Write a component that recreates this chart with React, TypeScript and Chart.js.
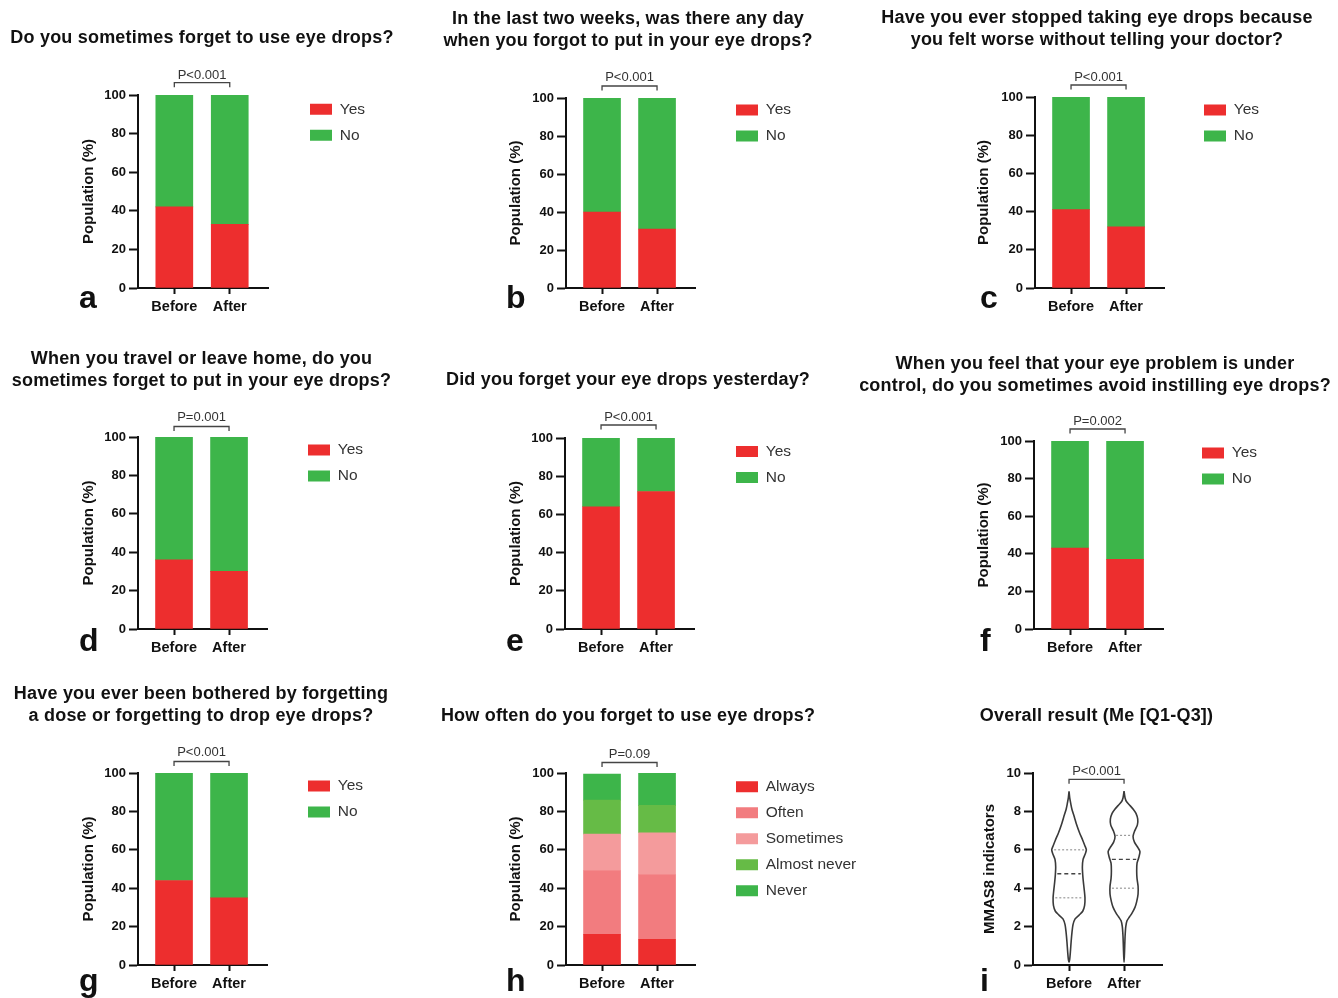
import React, { useEffect, useRef } from 'react';
import { Chart, registerables } from 'chart.js';

Chart.register(...registerables);

const FONT = '"Liberation Sans", Arial, Helvetica, sans-serif';
Chart.defaults.font.family = FONT;

// ---------- categories / labels ----------
const groups = ['Before', 'After'];
const yesNoLabels = ['Yes', 'No'];
const freqLabels = ['Always', 'Often', 'Sometimes', 'Almost never', 'Never'];
const percentTicks = [0, 20, 40, 60, 80, 100];
const mmasTicks = [0, 2, 4, 6, 8, 10];
const pValues = ['P<0.001', 'P<0.001', 'P<0.001', 'P=0.001', 'P<0.001', 'P=0.002', 'P<0.001', 'P=0.09', 'P<0.001'];

// ---------- values (percent of population) ----------
const aYes = [42, 33];
const aNo = [58, 67];
const bYes = [40, 31];
const bNo = [60, 69];
const cYes = [41, 32];
const cNo = [59, 68];
const dYes = [36, 30];
const dNo = [64, 70];
const eYes = [64, 72];
const eNo = [36, 28];
const fYes = [43, 37];
const fNo = [57, 63];
const gYes = [44, 35];
const gNo = [56, 65];

const hAlways = [16, 13.4];
const hOften = [33.2, 33.6];
const hSometimes = [19, 21.9];
const hAlmostNever = [17.7, 14.2];
const hNever = [13.6, 16.9];

// ---------- violin (MMAS8) : levels and relative density ----------
const violinLevelsBefore = [9.05, 8.7, 8.4, 8.1, 7.7, 7.3, 6.9, 6.5, 6.2, 6.0, 5.8, 5.5, 5.1, 4.7, 4.3, 3.9, 3.5, 3.1, 2.8, 2.6, 2.4, 2.1, 1.7, 1.2, 0.7, 0.3, 0.15];
const violinDensityBefore = [0, 0.04, 0.1, 0.17, 0.31, 0.44, 0.6, 0.79, 0.92, 1, 0.94, 0.81, 0.77, 0.79, 0.83, 0.88, 0.92, 0.9, 0.79, 0.58, 0.35, 0.23, 0.17, 0.12, 0.08, 0.04, 0];
const violinLevelsAfter = [9.05, 8.7, 8.5, 8.3, 8.1, 7.9, 7.6, 7.3, 7.0, 6.7, 6.4, 6.1, 5.9, 5.6, 5.3, 4.9, 4.5, 4.1, 3.7, 3.3, 3.0, 2.7, 2.5, 2.3, 2.0, 1.5, 1.0, 0.5, 0.15];
const violinDensityAfter = [0, 0.06, 0.15, 0.35, 0.54, 0.69, 0.79, 0.77, 0.62, 0.52, 0.6, 0.81, 0.92, 0.85, 0.75, 0.73, 0.75, 0.81, 0.81, 0.73, 0.63, 0.46, 0.31, 0.17, 0.1, 0.06, 0.04, 0.02, 0];
const quartilesBefore = [3.5, 4.75, 6.0];
const quartilesAfter = [4.0, 5.5, 6.75];

// ---------- styles ----------
const RED = '#ED2E2E';
const GREEN = '#3DB54A';
const freqColors = ['#ED2E2E', '#F27C7F', '#F49B9C', '#66BB46', '#3DB54A'];
const VIOLIN_HALF = 0.315;

const cols = [[0, 430], [430, 430], [860, 478]];
const rows = [[0, 335], [335, 335], [670, 328]];

type Series = { label: string; values: number[]; color: string };
type Panel = {
  letter: string; col: number; row: number; title: string[]; titleX: number; titleY: number;
  area: number[]; yTitleX: number; letterPos: number[]; legend?: number[]; bracket: number[];
  p: string; kind: 'bar' | 'violin'; series?: Series[]; yTitle: string;
};

const yn = (yes: number[], no: number[]): Series[] => [
  { label: yesNoLabels[0], values: yes, color: RED },
  { label: yesNoLabels[1], values: no, color: GREEN },
];

const panels: Panel[] = [
  { letter: 'a', col: 0, row: 0, title: ['Do you sometimes forget to use eye drops?'], titleX: 202, titleY: 38,
    area: [138, 268, 95, 288], yTitleX: 89, letterPos: [79, 308], legend: [310, 109.3], bracket: [-12.3, -20], p: pValues[0], kind: 'bar', series: yn(aYes, aNo), yTitle: 'Population (%)' },
  { letter: 'b', col: 1, row: 0, title: ['In the last two weeks, was there any day', 'when you forgot to put in your eye drops?'], titleX: 628, titleY: 19,
    area: [566, 695, 98, 288], yTitleX: 516, letterPos: [506, 308], legend: [736, 110], bracket: [-12, -21], p: pValues[1], kind: 'bar', series: yn(bYes, bNo), yTitle: 'Population (%)' },
  { letter: 'c', col: 2, row: 0, title: ['Have you ever stopped taking eye drops because', 'you felt worse without telling your doctor?'], titleX: 1097, titleY: 18.5,
    area: [1035, 1164, 97, 288], yTitleX: 984, letterPos: [980, 308], legend: [1204, 110], bracket: [-12, -20], p: pValues[2], kind: 'bar', series: yn(cYes, cNo), yTitle: 'Population (%)' },
  { letter: 'd', col: 0, row: 1, title: ['When you travel or leave home, do you', 'sometimes forget to put in your eye drops?'], titleX: 201.5, titleY: 359.5,
    area: [138, 267, 437, 629], yTitleX: 89, letterPos: [79, 651], legend: [308, 450], bracket: [-10.5, -20], p: pValues[3], kind: 'bar', series: yn(dYes, dNo), yTitle: 'Population (%)' },
  { letter: 'e', col: 1, row: 1, title: ['Did you forget your eye drops yesterday?'], titleX: 628, titleY: 380,
    area: [565, 694, 438, 629], yTitleX: 516, letterPos: [506, 651], legend: [736, 451.5], bracket: [-13, -21], p: pValues[4], kind: 'bar', series: yn(eYes, eNo), yTitle: 'Population (%)' },
  { letter: 'f', col: 2, row: 1, title: ['When you feel that your eye problem is under', 'control, do you sometimes avoid instilling eye drops?'], titleX: 1095, titleY: 364.5,
    area: [1034, 1163, 441, 629], yTitleX: 984, letterPos: [980, 651], legend: [1202, 453], bracket: [-12, -19.5], p: pValues[5], kind: 'bar', series: yn(fYes, fNo), yTitle: 'Population (%)' },
  { letter: 'g', col: 0, row: 2, title: ['Have you ever been bothered by forgetting', 'a dose or forgetting to drop eye drops?'], titleX: 201, titleY: 694.5,
    area: [138, 267, 773, 965], yTitleX: 89, letterPos: [79, 991], legend: [308, 786], bracket: [-11.5, -20.5], p: pValues[6], kind: 'bar', series: yn(gYes, gNo), yTitle: 'Population (%)' },
  { letter: 'h', col: 1, row: 2, title: ['How often do you forget to use eye drops?'], titleX: 628, titleY: 716,
    area: [566, 695, 773, 965], yTitleX: 516, letterPos: [506, 991], legend: [736, 786.7], bracket: [-10.5, -19], p: pValues[7], kind: 'bar',
    series: [
      { label: freqLabels[0], values: hAlways, color: freqColors[0] },
      { label: freqLabels[1], values: hOften, color: freqColors[1] },
      { label: freqLabels[2], values: hSometimes, color: freqColors[2] },
      { label: freqLabels[3], values: hAlmostNever, color: freqColors[3] },
      { label: freqLabels[4], values: hNever, color: freqColors[4] },
    ], yTitle: 'Population (%)' },
  { letter: 'i', col: 2, row: 2, title: ['Overall result (Me [Q1-Q3])'], titleX: 1096.5, titleY: 716,
    area: [1033, 1162, 773, 965], yTitleX: 990, letterPos: [980, 991], bracket: [6.3, -1.3], p: pValues[8], kind: 'violin', yTitle: 'MMAS8 indicators' },
];

function widthAt(levels: number[], dens: number[], v: number) {
  for (let k = 0; k < levels.length - 1; k++) {
    const a = levels[k], b = levels[k + 1];
    if (v <= a && v >= b) {
      const t = (a - v) / (a - b);
      return dens[k] + (dens[k + 1] - dens[k]) * t;
    }
  }
  return 0;
}

function outline(levels: number[], dens: number[], c: number) {
  const right = levels.map((y, i) => ({ x: c + dens[i] * VIOLIN_HALF, y }));
  const left = levels.map((y, i) => ({ x: c - dens[i] * VIOLIN_HALF, y })).reverse();
  return right.concat(left.slice(1));
}

const grid = (len: number) => ({ display: true, drawOnChartArea: false, drawTicks: true, tickLength: len, tickWidth: 2, tickColor: '#111', offset: false });
const border = { display: true, color: '#111', width: 2 };

function makePlugin(p: Panel, ox: number, oy: number) {
  return {
    id: 'annot_' + p.letter,
    afterLayout(chart: any) {
      const l = chart.legend;
      if (!l || !p.legend) return;
      const pad = 10.5;
      const itemH = 15.5;
      const left = p.legend[0] - ox - pad;
      const top = p.legend[1] - oy - itemH / 2 - pad;
      l.left = left; l.top = top; l.width = 220; l.height = 200;
      l.right = left + 220; l.bottom = top + 200;
    },
    afterDraw(chart: any) {
      const ctx = chart.ctx as CanvasRenderingContext2D;
      const xs = chart.scales.x;
      const top = chart.chartArea.top;
      ctx.save();
      ctx.fillStyle = '#111';
      ctx.textAlign = 'center';
      ctx.textBaseline = 'middle';
      ctx.font = `bold 18px ${FONT}`;
      (ctx as any).letterSpacing = '0.2px';
      p.title.forEach((line, k) => ctx.fillText(line, p.titleX - ox, p.titleY - oy + k * 21.8));
      (ctx as any).letterSpacing = '0px';
      const x0 = xs.getPixelForValue(0);
      const x1 = xs.getPixelForValue(1);
      const by = top + p.bracket[0];
      ctx.strokeStyle = '#444';
      ctx.lineWidth = 1.3;
      ctx.beginPath();
      ctx.moveTo(x0, by + 4.5); ctx.lineTo(x0, by); ctx.lineTo(x1, by); ctx.lineTo(x1, by + 4.5);
      ctx.stroke();
      ctx.fillStyle = '#333';
      ctx.font = `13px ${FONT}`;
      ctx.fillText(p.p, (x0 + x1) / 2, top + p.bracket[1]);
      ctx.textAlign = 'left';
      ctx.textBaseline = 'alphabetic';
      ctx.fillStyle = '#111';
      ctx.font = `bold 32px ${FONT}`;
      ctx.fillText(p.letter, p.letterPos[0] - ox, p.letterPos[1] - oy);
      ctx.restore();
    },
  };
}

function buildConfig(p: Panel): any {
  const [cx, cw] = cols[p.col];
  const [ry, rh] = rows[p.row];
  const [L, R, T, B] = p.area;
  const yW = L - p.yTitleX + 9;
  const xH = 30;
  const padding = { left: L - cx - yW, right: cx + cw - R, top: T - ry, bottom: ry + rh - B - xH };
  const isBar = p.kind === 'bar';

  let datasets: any[] = [];
  if (isBar) {
    datasets = (p.series || []).map((s) => ({
      label: s.label,
      data: groups.map((_, i) => ({ x: i, y: s.values[i] })),
      backgroundColor: s.color,
      borderWidth: 0,
      barThickness: 37,
      stack: 'one',
    }));
  } else {
    const sets = [
      { levels: violinLevelsBefore, dens: violinDensityBefore, q: quartilesBefore },
      { levels: violinLevelsAfter, dens: violinDensityAfter, q: quartilesAfter },
    ];
    sets.forEach((s, gi) => {
      datasets.push({
        label: groups[gi],
        data: outline(s.levels, s.dens, gi),
        showLine: true, fill: false, borderColor: '#3a3a3a', borderWidth: 1.6,
        pointRadius: 0, pointHoverRadius: 0, tension: 0.25,
      });
      s.q.forEach((qv, qi) => {
        const hw = widthAt(s.levels, s.dens, qv) * VIOLIN_HALF * 0.86;
        datasets.push({
          label: groups[gi] + ' q' + qi,
          data: [{ x: gi - hw, y: qv }, { x: gi + hw, y: qv }],
          showLine: true, fill: false,
          borderColor: qi === 1 ? '#444' : '#9a9a9a',
          borderWidth: qi === 1 ? 1.4 : 1.2,
          borderDash: qi === 1 ? [4, 3] : [2, 2],
          pointRadius: 0, pointHoverRadius: 0,
        });
      });
    });
  }

  const yTicks = isBar ? percentTicks : mmasTicks;

  return {
    type: isBar ? 'bar' : 'scatter',
    data: { datasets },
    options: {
      responsive: false,
      animation: false,
      events: [],
      layout: { padding },
      scales: {
        x: {
          type: 'linear', min: -0.655, max: 1.69, offset: false,
          grid: grid(6), border,
          afterBuildTicks: (s: any) => { s.ticks = groups.map((_, i) => ({ value: i })); },
          afterFit: (s: any) => { s.height = xH; },
          ticks: {
            autoSkip: false, maxRotation: 0, minRotation: 0, padding: 4, color: '#111',
            font: { size: 14.5, weight: 'bold', family: FONT },
            callback: (v: any) => groups[v] ?? '',
          },
        },
        y: {
          type: 'linear', stacked: isBar, min: yTicks[0], max: yTicks[yTicks.length - 1],
          grid: grid(9), border,
          afterBuildTicks: (s: any) => { s.ticks = yTicks.map((v) => ({ value: v })); },
          afterFit: (s: any) => { s.width = yW; },
          ticks: { padding: 3, color: '#111', font: { size: 13, weight: 'bold', family: FONT } },
          title: { display: true, text: p.yTitle, color: '#111', padding: 0, font: { size: 15, weight: 'bold', family: FONT } },
        },
      },
      plugins: {
        legend: {
          display: isBar,
          position: 'chartArea',
          align: 'start',
          labels: { boxWidth: 22, boxHeight: 11, padding: 10.5, color: '#333', font: { size: 15.5, family: FONT } },
        },
        tooltip: { enabled: false },
        title: { display: false },
      },
    },
    plugins: [makePlugin(p, cx, ry)],
  };
}

function PanelChart({ p }: { p: Panel }) {
  const ref = useRef<HTMLCanvasElement>(null);
  const [cx, cw] = cols[p.col];
  const [ry, rh] = rows[p.row];
  useEffect(() => {
    if (!ref.current) return;
    const chart = new Chart(ref.current, buildConfig(p));
    return () => chart.destroy();
  }, []);
  return (
    <canvas
      ref={ref}
      width={cw}
      height={rh}
      style={{ position: 'absolute', left: cx, top: ry, width: cw, height: rh }}
    />
  );
}

export default function App() {
  return (
    <div style={{ position: 'absolute', left: 0, top: 0, width: 1338, height: 998, background: '#fff', overflow: 'hidden' }}>
      {panels.map((p) => (
        <PanelChart key={p.letter} p={p} />
      ))}
    </div>
  );
}
